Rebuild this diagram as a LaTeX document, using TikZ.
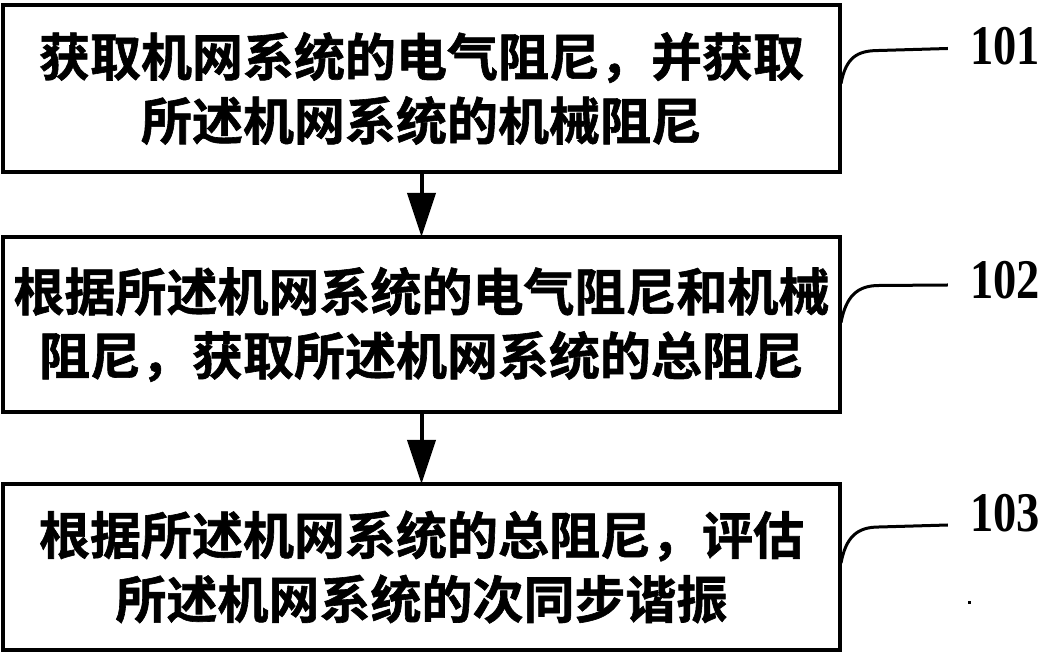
\documentclass[tikz,border=0pt]{standalone}
\usepackage{fontspec}
\newfontfamily\cjk{Noto Sans CJK SC}[BoldFont={Noto Sans CJK SC Bold},BoldFeatures={FakeBold=1.2}]
\newfontfamily\numfont{Liberation Serif}[FakeStretch=0.83]
\usetikzlibrary{arrows.meta,calc}
\begin{document}
\begin{tikzpicture}[x=1pt,y=1pt,
  stepbox/.style={draw,line width=4pt,inner sep=0pt,outer sep=0pt,
    minimum width=837pt,align=center,
    font=\cjk\bfseries\fontsize{51}{64}\selectfont},
  flow/.style={line width=4pt,-{Triangle[width=28pt,length=44pt]}},
  leader/.style={line width=3pt},
  tag/.style={inner sep=0pt,font=\numfont\bfseries\fontsize{56}{56}\selectfont}]
\useasboundingbox (0,0) rectangle (1063,653);
\node[stepbox,minimum height=167pt] (b1) at (421.5,564.5)
  {获取机网系统的电气阻尼，并获取\\所述机网系统的机械阻尼};
\node[stepbox,minimum height=175pt] (b2) at (421.5,328.5)
  {根据所述机网系统的电气阻尼和机械\\阻尼，获取所述机网系统的总阻尼};
\node[stepbox,minimum height=166pt] (b3) at (421.5,86)
  {根据所述机网系统的总阻尼，评估\\所述机网系统的次同步谐振};
\draw[flow] (b1.south) -- (b2.north);
\draw[flow] (b2.south) -- (b3.north);
\node[tag] (l1) at (1005,606.5) {101};
\node[tag] (l2) at (1005,373) {102};
\node[tag] (l3) at (1005,140) {103};
\coordinate (s1) at ($(b1.east)+(1,5)$);
\coordinate (s2) at ($(b2.east)+(1,2)$);
\coordinate (s3) at ($(b3.east)+(1,4)$);
\draw[leader] (s1) .. controls +(5,26) and +(-22,0) .. ($(s1)+(38,33)$) -- ($(l1.west)+(-22,-2)$);
\draw[leader] (s2) .. controls +(5,26) and +(-22,0) .. ($(s2)+(38,37)$) -- ($(l2.west)+(-22,-5)$);
\draw[leader] (s3) .. controls +(5,26) and +(-22,0) .. ($(s3)+(38,36)$) -- ($(l3.west)+(-22,-12)$);
\fill (967.5,48.5) rectangle (970.5,51.5);
\end{tikzpicture}
\end{document}
